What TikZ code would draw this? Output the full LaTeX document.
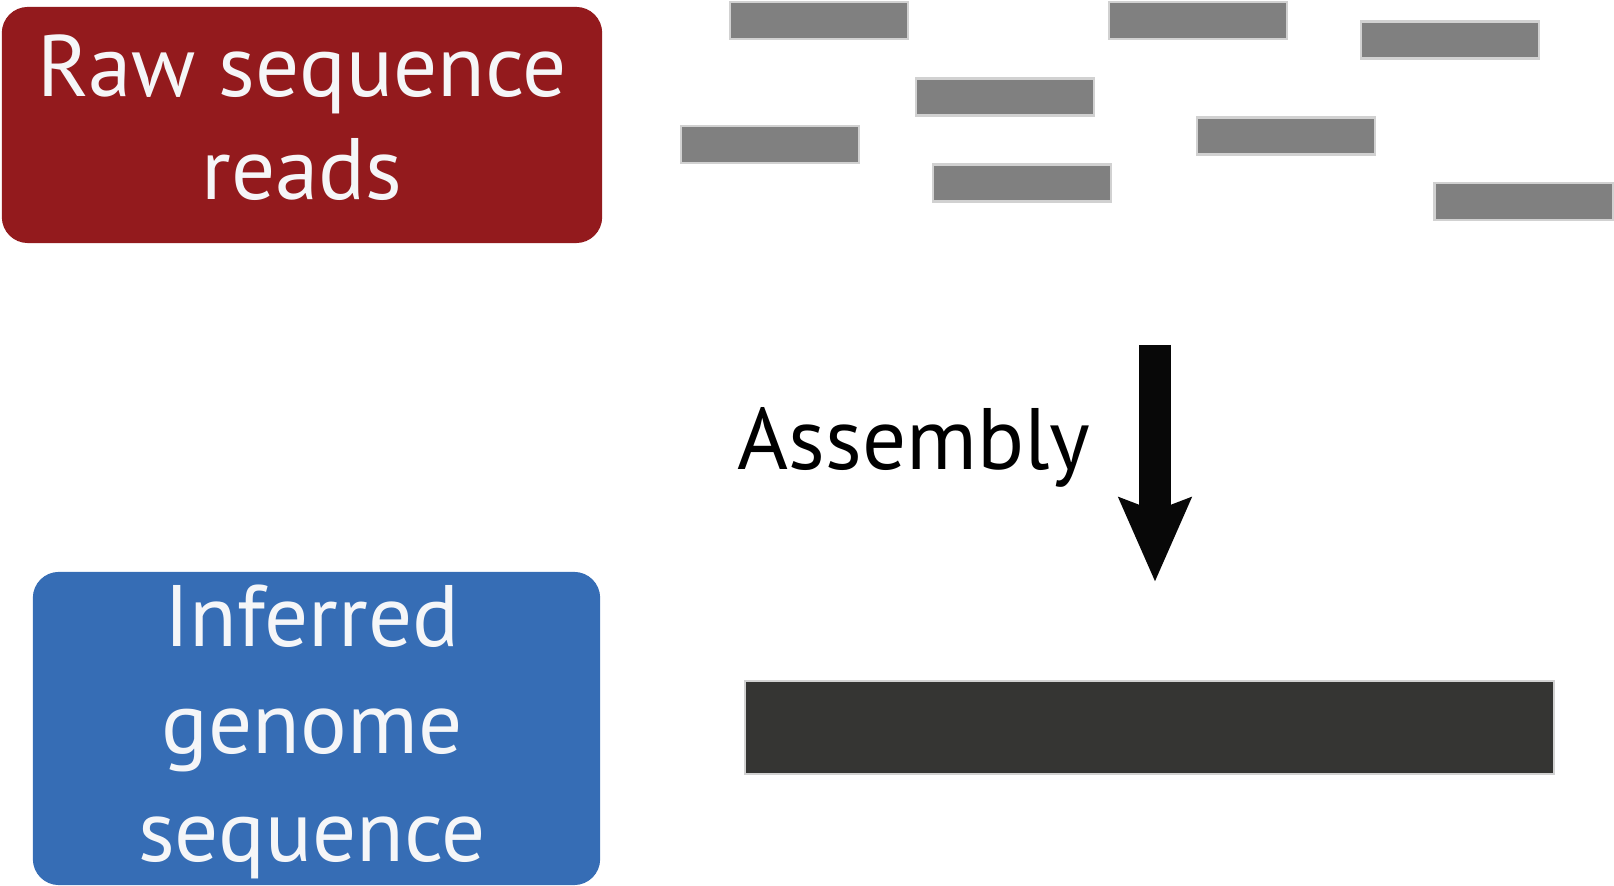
\documentclass[tikz,border=0pt]{standalone}
\usepackage{fontspec}
\setmainfont{PT Sans}
\usetikzlibrary{positioning, arrows, arrows.meta}
\definecolor{rawred}{HTML}{931A1D}
\definecolor{genblue}{HTML}{366DB5}
\definecolor{readgray}{HTML}{808080}
\definecolor{gendark}{HTML}{353533}
\definecolor{boxwhite}{HTML}{F5F6F8}
\tikzset{ box/.style={rounded corners=0.26cm, inner sep=0pt, draw=none},
         boxtext/.style={text=boxwhite, align=center, inner sep=0pt,
            font=\fontsize{24.8}{29.3}\selectfont},
         read/.style={fill=readgray, draw=black!18, line width=0.6pt,
            minimum width=1.78cm, minimum height=0.37cm, inner sep=0pt}}

\begin{document}
\begin{tikzpicture}[x=0.01cm, y=-0.01cm]

\useasboundingbox (0,0) rectangle (1614,886);

\node[box, fill=rawred, minimum width=6cm, minimum height=2.36cm] (raw)
  at (302,125) {};
\node[boxtext, anchor=north] (rawtxt) at (302,34) {Raw sequence\\reads};

\node[box, fill=genblue, minimum width=5.67cm, minimum height=3.13cm] (gen)
  at (316.5,728.5) {};
\node[boxtext, anchor=north, font=\fontsize{24.8}{30.6}\selectfont] (gentxt)
  at (312,584) {Inferred\\genome\\sequence};

\foreach \x/\y/\i in {819/20.5/1, 1198/20.5/2, 1450/40/3, 1005/97/4,
    770/144.5/5, 1286/136/6, 1022/183/7, 1523.5/201.5/8} %reads
  \node[read] (r\i) at (\x,\y) {};

\node[read, fill=gendark, minimum width=8.09cm, minimum height=0.93cm] (genome)
  at (1149.5,727.5) {};

\coordinate (atop) at (1155,345);
\coordinate (atip) at (1155,582);
\draw[line width=0.32cm, black!97,
  -{Stealth[length=0.83cm, width=0.70cm, inset=0.12cm]}] (atop) -- (atip);
\node[anchor=base west, inner sep=0pt, font=\fontsize{24.8}{30}\selectfont]
  (asm) at (737,470) {Assembly};

\end{tikzpicture}
\end{document}
